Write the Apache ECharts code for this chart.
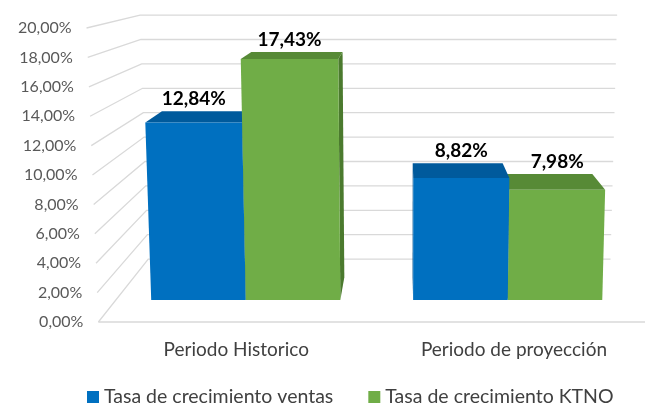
<!DOCTYPE html>
<html>
<head>
<meta charset="utf-8">
<script src="https://cdn.jsdelivr.net/npm/echarts@6/dist/echarts.min.js"></script>
<style>
  html, body { margin: 0; padding: 0; background: #fff; }
  #chart { width: 645px; height: 406px; }
</style>
</head>
<body>
<div id="chart"></div>
<script>
const categories = ['Periodo Historico', 'Periodo de proyección'];
const ventas = [12.84, 8.82];
const ktno = [17.43, 7.98];
const yTicks = [0, 2, 4, 6, 8, 10, 12, 14, 16, 18, 20];
const seriesNames = ['Tasa de crecimiento ventas', 'Tasa de crecimiento KTNO'];

// fake 3d: one point perspective towards VX,VY
const VX = 404, VY = -48, TILT = 0.000132, BASE = 322;
const D_FRONT = 0.0595, D_BACK = 0.1212, D_WALL = 0.17;
const BAR_FRAC = 0.361;
const FONT = 'Lato';

function proj(p, d) {
    let x = VX + (p[0] - VX) * (1 - d);
    let y = VY + (p[1] - VY) * (1 - d);
    x = VX + (x - VX) * (1 + TILT * (BASE - y));
    return [x, y];
}

function pct(v) {
    return v.toFixed(2).replace('.', ',') + '%';
}

const colors = [
    { front: '#0070C0', top: '#005A9C', side: '#004F8A' },
    { front: '#70AD47', top: '#578A36', side: '#4B7A2E' }
];

function renderBar(s) {
    return function (params, api) {
        const c = api.value(0), v = api.value(1);
        const bw = api.size([1, 0])[0] * BAR_FRAC;
        const base = api.coord([c, 0]);
        const yt = api.coord([c, v])[1];
        const x0 = base[0] + (s === 0 ? -bw : 0), x1 = x0 + bw;
        const yb = base[1];
        const ftl = proj([x0, yt], D_FRONT), ftr = proj([x1, yt], D_FRONT);
        const fbl = proj([x0, yb], D_FRONT), fbr = proj([x1, yb], D_FRONT);
        const btl = proj([x0, yt], D_BACK), btr = proj([x1, yt], D_BACK);
        const bbl = proj([x0, yb], D_BACK), bbr = proj([x1, yb], D_BACK);
        const col = colors[s];
        const z = -Math.abs((x0 + x1) / 2 - VX);
        const side = (x0 + x1) / 2 < VX ? [ftr, fbr, bbr, btr] : [ftl, fbl, bbl, btl];
        return {
            type: 'group',
            children: [
                { type: 'polygon', z2: z, shape: { points: side }, style: { fill: col.side } },
                { type: 'polygon', z2: z + 0.1, shape: { points: [ftl, ftr, btr, btl] }, style: { fill: col.top } },
                { type: 'polygon', z2: z + 0.2, shape: { points: [ftl, ftr, fbr, fbl] }, style: { fill: col.front } },
                {
                    type: 'text', z2: 1000,
                    style: {
                        text: pct(v), x: (ftl[0] + ftr[0]) / 2, y: Math.min(btl[1], btr[1]) - 3,
                        align: 'center', verticalAlign: 'bottom',
                        font: 'bold 19px ' + FONT, fill: '#000'
                    }
                }
            ]
        };
    };
}

function renderGrid(params, api) {
    const v = api.value(1);
    const half = api.size([1, 0])[0] / 2;
    const left = api.coord([0, v])[0] - half + 1;
    const right = api.coord([categories.length - 1, v])[0] + half - 2;
    const y = api.coord([0, v])[1];
    const f = proj([left, y], 0), b = proj([left, y], D_WALL), r = proj([right, y], D_WALL);
    const children = [
        { type: 'polyline', shape: { points: [f, b, r] }, style: { stroke: '#D9D9D9', lineWidth: 1.3, fill: null } },
        {
            type: 'text',
            style: {
                text: pct(v), x: f[0] - 15, y: f[1],
                align: 'right', verticalAlign: 'middle',
                font: '16px ' + FONT, fill: '#595959'
            }
        }
    ];
    if (v === 0) {
        children.push({ type: 'line', shape: { x1: f[0], y1: f[1], x2: 660, y2: f[1] }, style: { stroke: '#D9D9D9', lineWidth: 1.3 } });
    }
    return { type: 'group', children: children };
}

const chart = echarts.init(document.getElementById('chart'));
chart.setOption({
    animation: false,
    grid: { left: 97.4, right: -7.8, top: 28, bottom: 84, outerBoundsMode: 'none' },
    legend: {
        data: seriesNames,
        top: 382,
        left: 82,
        itemWidth: 12,
        itemHeight: 12,
        itemGap: 35,
        icon: 'rect',
        textStyle: { fontFamily: FONT, fontSize: 19.5, color: '#404040' }
    },
    xAxis: {
        type: 'category',
        data: categories,
        axisLine: { show: false },
        axisTick: { show: false },
        axisLabel: { margin: 18, fontFamily: FONT, fontSize: 19, color: '#404040' }
    },
    yAxis: {
        type: 'value', min: 0, max: 20, interval: 2, show: false
    },
    series: [
        {
            type: 'custom', name: 'grid', z: 1, silent: true,
            renderItem: renderGrid,
            data: yTicks.map(v => [0, v])
        },
        {
            type: 'custom', name: seriesNames[0], z: 2,
            itemStyle: { color: colors[0].front },
            renderItem: renderBar(0),
            data: ventas.map((v, i) => [i, v])
        },
        {
            type: 'custom', name: seriesNames[1], z: 2,
            itemStyle: { color: colors[1].front },
            renderItem: renderBar(1),
            data: ktno.map((v, i) => [i, v])
        }
    ]
});
</script>
</body>
</html>
